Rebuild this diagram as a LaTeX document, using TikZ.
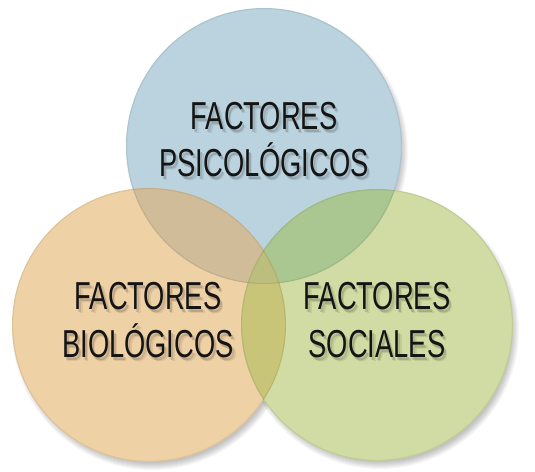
\documentclass[tikz,border=0pt]{standalone}
\usepackage{fontspec}
\newfontfamily\lab{Liberation Sans}[FakeStretch=0.70]
\definecolor{cB}{RGB}{187,211,223}
\definecolor{cO}{RGB}{239,209,166}
\definecolor{cG}{RGB}{208,220,163}
\definecolor{cBO}{RGB}{208,188,152}
\definecolor{cBG}{RGB}{170,198,145}
\definecolor{cOG}{RGB}{200,196,120}
\definecolor{cBOG}{RGB}{188,190,126}
\tikzset{
  circ/.style={circle, inner sep=0pt, minimum size=#1},
  txt/.style={font=\lab\fontsize{39}{41}\selectfont, text=black!92, anchor=base, inner sep=0pt},
  txtsh/.style={font=\lab\fontsize{39}{41}\selectfont, text=black, opacity=#1, anchor=base, inner sep=0pt},
}
\begin{document}
\begin{tikzpicture}[x=1pt,y=1pt]
\useasboundingbox (0,0) rectangle (535,471);
\fill[white] (0,0) rectangle (535,471);
% soft drop shadows
\foreach \cx/\cy/\r in {264/325/138, 149/146/137, 377/146/136}{
  \foreach \k in {0,...,7}{
    \fill[black, opacity=0.03] (\cx+3,\cy-5) circle ({\r+\k-4});
  }
}
% circles
\node[circ=276pt, fill=cB] (psi) at (264,325) {};
\node[circ=274pt, fill=cO] (bio) at (149,146) {};
\node[circ=272pt, fill=cG] (soc) at (377,146) {};
% overlaps
\begin{scope}
  \clip (psi.center) circle (138);
  \fill[cBO] (bio.center) circle (137);
  \fill[cBG] (soc.center) circle (136);
\end{scope}
\begin{scope}
  \clip (bio.center) circle (137);
  \fill[cOG] (soc.center) circle (136);
  \clip (soc.center) circle (136);
  \fill[cBOG] (psi.center) circle (138);
\end{scope}
% rims
\draw[black, opacity=0.07, line width=1.2pt] (psi.center) circle (137.4);
\draw[black, opacity=0.07, line width=1.2pt] (bio.center) circle (136.4);
\draw[black, opacity=0.07, line width=1.2pt] (soc.center) circle (135.4);
% text shadows (soft)
\foreach \dx/\dy/\op in {2/-2.5/0.14, 3.5/-4/0.08}{
  \node[txtsh=\op] at (264+\dx,341+\dy) {FACTORES};
  \node[txtsh=\op] at (264+\dx,294+\dy) {PSICOLÓGICOS};
  \node[txtsh=\op] at (148+\dx,161+\dy) {FACTORES};
  \node[txtsh=\op] at (148+\dx,113+\dy) {BIOLÓGICOS};
  \node[txtsh=\op] at (377+\dx,161+\dy) {FACTORES};
  \node[txtsh=\op] at (377+\dx,113+\dy) {SOCIALES};
}
% text
\node[txt] (p1) at (264,341) {FACTORES};
\node[txt] (p2) at (264,294) {PSICOLÓGICOS};
\node[txt] (b1) at (148,161) {FACTORES};
\node[txt] (b2) at (148,113) {BIOLÓGICOS};
\node[txt] (s1) at (377,161) {FACTORES};
\node[txt] (s2) at (377,113) {SOCIALES};
\end{tikzpicture}
\end{document}
